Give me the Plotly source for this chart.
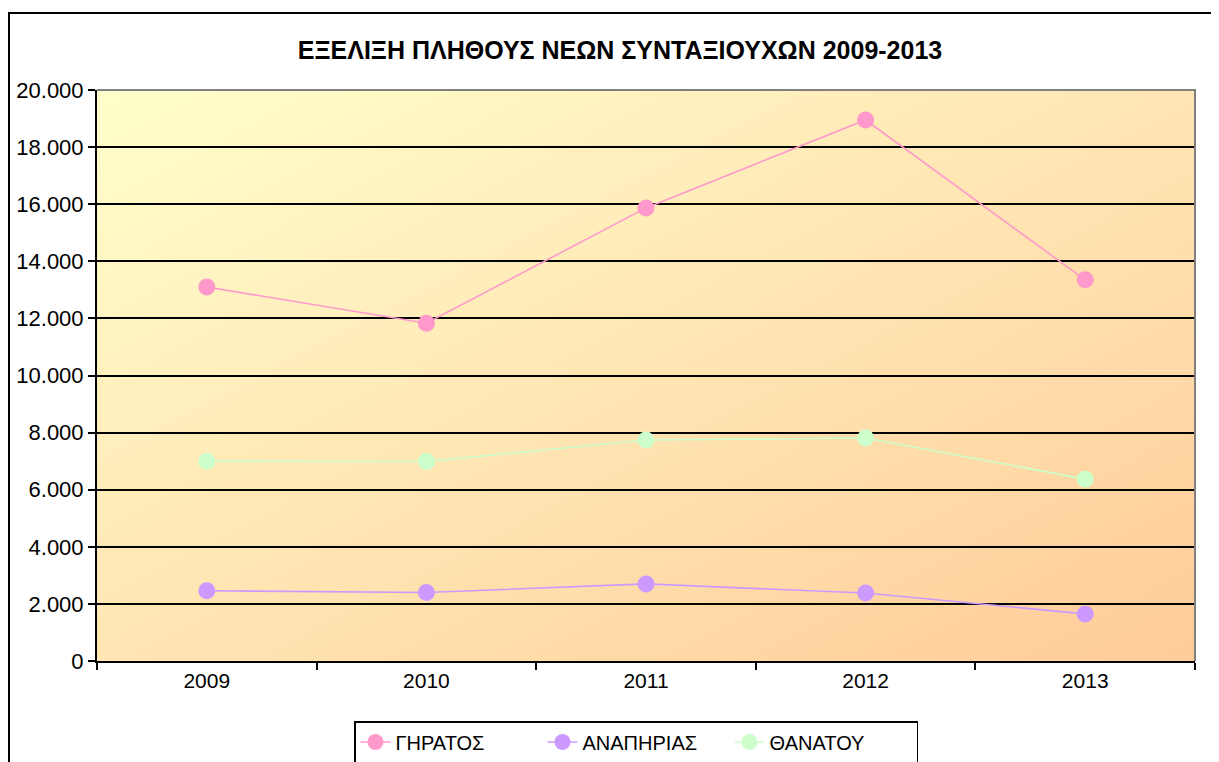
import base64
import plotly.graph_objects as go

years = ["2009", "2010", "2011", "2012", "2013"]
giratos = [13100, 11830, 15870, 18950, 13350]
anapirias = [2460, 2400, 2700, 2380, 1650]
thanatou = [7000, 6990, 7740, 7810, 6370]
series_names = ["ΓΗΡΑΤΟΣ", "ΑΝΑΠΗΡΙΑΣ", "ΘΑΝΑΤΟΥ"]
series_colors = ["#FF99CC", "#CC99FF", "#CCFFCC"]
title_text = "ΕΞΕΛΙΞΗ ΠΛΗΘΟΥΣ ΝΕΩΝ ΣΥΝΤΑΞΙΟΥΧΩΝ 2009-2013"

FONT = "Liberation Sans, Arial, sans-serif"
OFF = 8  # default body margin of the html page

fig = go.Figure()
for name, vals, col in zip(series_names, [giratos, anapirias, thanatou], series_colors):
    fig.add_trace(go.Scatter(
        x=years, y=vals, name=name, mode="lines+markers",
        line=dict(color=col, width=1.6),
        marker=dict(color=col, size=17),
    ))

svg = ('<svg xmlns="http://www.w3.org/2000/svg" width="200" height="100" '
       'preserveAspectRatio="none"><defs><linearGradient id="g" x1="0" y1="0" x2="1" y2="1">'
       '<stop offset="0" stop-color="#FFFFCC"/><stop offset="1" stop-color="#FFCC99"/>'
       '</linearGradient></defs><rect width="200" height="100" fill="url(#g)"/></svg>')
uri = "data:image/svg+xml;base64," + base64.b64encode(svg.encode()).decode()

W, H = 1219 - OFF, 762 - OFF
L, R, T, B = 97 - OFF, 24, 90 - OFF, 101
PW, PH = W - L - R, H - T - B

fig.update_layout(
    width=W, height=H,
    margin=dict(l=L, r=R, t=T, b=B, autoexpand=False),
    paper_bgcolor="white", plot_bgcolor="rgba(0,0,0,0)",
    separators=",.",
    font=dict(family=FONT, size=21, color="black"),
    title=dict(text="<b>" + title_text + "</b>", x=(620 - OFF) / W, xanchor="center",
               y=1 - (50 - OFF) / H, yanchor="middle", yref="container",
               font=dict(family=FONT, size=25, color="black")),
    showlegend=True,
    legend=dict(orientation="h", x=(636 - 97) / PW, xanchor="center",
                y=-(721 - 661) / PH, yanchor="top",
                bordercolor="black", borderwidth=1.5, bgcolor="white",
                font=dict(family=FONT, size=20), tracegroupgap=0,
                entrywidth=142, entrywidthmode="pixels"),
    images=[dict(source=uri, xref="paper", yref="paper", x=0, y=1, sizex=1, sizey=1,
                 xanchor="left", yanchor="top", sizing="stretch", layer="below")],
    shapes=[
        dict(type="path", path="M 0,1 L 1,1 L 1,0", xref="paper", yref="paper",
             line=dict(color="#808080", width=2), layer="above"),
        dict(type="rect", xref="paper", yref="paper",
             x0=(9 - 97) / PW, x1=1.2, y0=-0.5, y1=1 + (90 - 13) / PH,
             line=dict(color="black", width=2), fillcolor="rgba(0,0,0,0)", layer="above"),
    ],
)

fig.update_xaxes(
    type="category", tickson="boundaries", ticks="outside", ticklen=7,
    tickcolor="black", tickwidth=1.5,
    showline=True, linecolor="black", linewidth=2, showgrid=False,
    tickfont=dict(family=FONT, size=21), range=[-0.5, 4.5],
)
fig.update_yaxes(
    range=[0, 20000], dtick=2000, tickformat=",d", ticks="outside", ticklen=7,
    tickcolor="black", tickwidth=1.5,
    showline=True, linecolor="black", linewidth=2,
    showgrid=True, gridcolor="black", gridwidth=1.5, zeroline=False,
    tickfont=dict(family=FONT, size=22),
)

fig.write_html("out.html")
